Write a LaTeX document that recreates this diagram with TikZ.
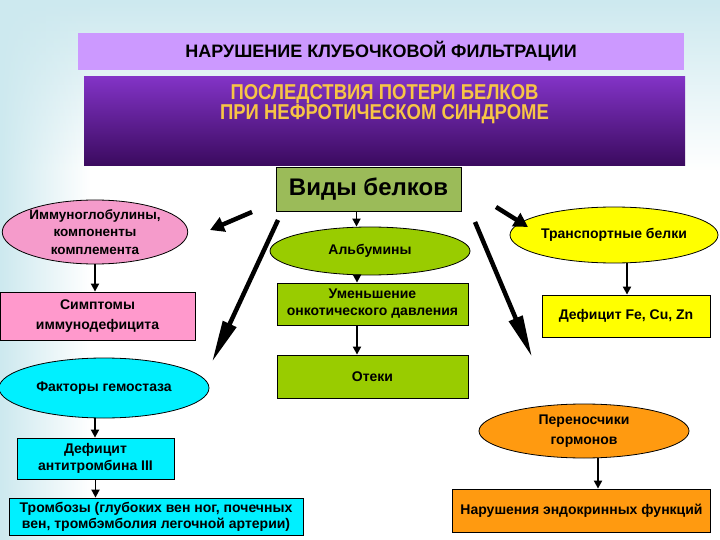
\documentclass[tikz,border=0pt]{standalone}
\usepackage{fontspec}
\setmainfont{Liberation Sans}
\newfontfamily\goldfont[FakeStretch=0.86]{Liberation Sans}
\usetikzlibrary{shapes.geometric,arrows.meta,fadings}
\definecolor{bgblue}{HTML}{CDE9EF}
\definecolor{lilac}{HTML}{CC99FF}
\definecolor{purtop}{HTML}{8233C6}
\definecolor{purbot}{HTML}{3A0A5E}
\definecolor{gold}{HTML}{F7C545}
\definecolor{olive}{HTML}{9BBB59}
\definecolor{lime}{HTML}{99CC00}
\definecolor{yel}{HTML}{FFFF00}
\definecolor{cyanf}{HTML}{00F0FF}
\definecolor{orangef}{HTML}{FF9A10}
\definecolor{pinkf}{HTML}{FF99CC}
\definecolor{pinke}{HTML}{F59BCB}
\tikzset{
  base/.style={draw=black, line width=0.8pt, align=center, inner sep=0pt,
    font=\bfseries\fontsize{14}{17}\selectfont},
  rbox/.style={base, rectangle},
  ebox/.style={base, ellipse},
  thinarrow/.style={line width=1.8pt, -{Triangle[length=8pt,width=8pt]}},
  bigarrow/.style={line width=4.5pt, -{Triangle[length=42pt,width=14pt]}},
  shortbig/.style={line width=4.5pt, -{Triangle[length=14pt,width=15pt]}}
}
\begin{document}
\begin{tikzpicture}[x=1pt,y=-1pt]
\useasboundingbox (0,0) rectangle (720,540);
% background
\fill[white] (0,0) rectangle (720,540);
\fill[bgblue, path fading=south] (0,0) rectangle (720,170);
\fill[bgblue, path fading=east] (0,0) rectangle (90,540);

% header boxes
\node[rectangle, fill=lilac, minimum width=606pt, minimum height=37pt, inner sep=0pt,
  font=\bfseries\fontsize{18}{20}\selectfont] (t1) at (381,51.5) {НАРУШЕНИЕ КЛУБОЧКОВОЙ ФИЛЬТРАЦИИ};
\node[rectangle, top color=purtop, bottom color=purbot, minimum width=601pt, minimum height=89pt,
  inner sep=0pt] (t2) at (384.5,121.5) {};
\node[text=gold, align=center, inner sep=0pt,
  font=\goldfont\bfseries\fontsize{21.5}{20}\selectfont] (g1) at (384.5,104.5) {ПОСЛЕДСТВИЯ ПОТЕРИ БЕЛКОВ\\ПРИ НЕФРОТИЧЕСКОМ СИНДРОМЕ};

% central column
\node[rbox, fill=olive, minimum width=185pt, minimum height=44pt,
  font=\bfseries\fontsize{24}{26}\selectfont] (vidy) at (368.5,189) {Виды белков};
\node[ebox, fill=lime, minimum width=200pt, minimum height=48pt] (alb) at (370,251) {Альбумины};
\node[rbox, fill=lime, minimum width=191pt, minimum height=42pt] (umen) at (372.5,304) {Уменьшение\\онкотического давления};
\node[rbox, fill=lime, minimum width=191pt, minimum height=43pt] (oteki) at (372.5,376.5) {Отеки};

% left column
\node[ebox, fill=pinke, minimum width=174pt, minimum height=64pt,
  font=\bfseries\fontsize{13.5}{17.5}\selectfont] (imm) at (95,232) {Иммуноглобулины,\\компоненты\\комплемента};
\node[rbox, fill=pinkf, minimum width=195pt, minimum height=48pt,
  font=\bfseries\fontsize{14}{20}\selectfont] (symp) at (97.5,316) {Симптомы\\иммунодефицита};
\node[ebox, fill=cyanf, minimum width=210pt, minimum height=60pt] (fact) at (104,388) {Факторы гемостаза};
\node[rbox, fill=cyanf, minimum width=157pt, minimum height=41pt,
  font=\bfseries\fontsize{14}{17}\selectfont] (anti) at (95.5,458.5) {Дефицит\\антитромбина III};
\node[rbox, fill=cyanf, minimum width=294pt, minimum height=37pt,
  font=\bfseries\fontsize{14}{16}\selectfont] (tromb) at (156,516.5) {Тромбозы (глубоких вен ног, почечных\\вен, тромбэмболия легочной артерии)};

% right column
\node[ebox, fill=yel, minimum width=208pt, minimum height=56pt] (trans) at (614,235) {Транспортные белки};
\node[rbox, fill=yel, minimum width=168pt, minimum height=42pt] (defe) at (626,316) {Дефицит Fe, Cu, Zn};
\node[ebox, fill=orangef, minimum width=210pt, minimum height=54pt,
  font=\bfseries\fontsize{14}{20}\selectfont] (peren) at (584,431) {Переносчики\\гормонов};
\node[rbox, fill=orangef, minimum width=258pt, minimum height=43pt] (narush) at (581.5,510.5) {Нарушения эндокринных функций};

% thin connectors
\draw[thinarrow] ([xshift=-12pt]vidy.south) -- ([xshift=-12pt]vidy.south |- alb.north);
\draw[thinarrow] ([xshift=-13pt]alb.south) -- ([xshift=-13pt]alb.south |- umen.north);
\draw[thinarrow] ([xshift=-15.5pt]umen.south) -- ([xshift=-15.5pt]umen.south |- oteki.north);
\draw[thinarrow] (imm.south) -- (imm.south |- symp.north);
\draw[thinarrow] ([xshift=-9pt]fact.south) -- ([xshift=-9pt]fact.south |- anti.north);
\draw[thinarrow] (anti.south) -- (anti.south |- tromb.north);
\draw[thinarrow] ([xshift=13pt]trans.south) -- ([xshift=13pt]trans.south |- defe.north);
\draw[thinarrow] ([xshift=14pt]peren.south) -- ([xshift=14pt]peren.south |- narush.north);

% thick arrows from "Виды белков"
\coordinate (sl1) at (252,212);
\coordinate (el1) at (210,230);
\coordinate (sl2) at (278,220);
\coordinate (el2) at (212,362);
\coordinate (sr1) at (496,207);
\coordinate (er1) at (528,227);
\coordinate (sr2) at (475,222);
\coordinate (er2) at (532,357);
\draw[shortbig] (sl1) -- (el1);
\draw[bigarrow] (sl2) -- (el2);
\draw[shortbig] (sr1) -- (er1);
\draw[bigarrow] (sr2) -- (er2);
\end{tikzpicture}
\end{document}
